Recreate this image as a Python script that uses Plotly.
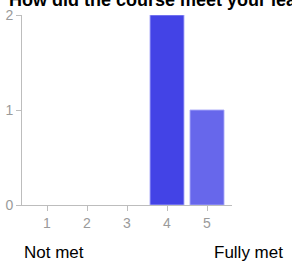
import plotly.graph_objects as go

title = "How did the course meet your learning expectations?"
categories = [1, 2, 3, 4, 5]
counts = [0, 0, 0, 2, 1]
bar_colors = ["#4343E6", "#4343E6", "#4343E6", "#4343E6", "#6767EB"]
y_ticks = [0, 1, 2]
low_label = "Not met"
high_label = "Fully met"

W, H = 292, 263
L, R, T, B = 22, 60, 15, 58
pw, ph = W - L - R, H - T - B


def py(pix):
    """pixel row -> paper y"""
    return 1 - (pix - T) / ph


def px(pix):
    return (pix - L) / pw


fig = go.Figure(go.Bar(
    x=categories, y=counts, width=0.85,
    marker=dict(color=bar_colors,
                line=dict(color="rgba(170,170,250,0.9)",
                          width=[1 if c > 0 else 0 for c in counts])),
    hoverinfo="skip",
))

axis_col = "#BDBDBD"
fig.update_layout(
    width=W, height=H,
    margin=dict(l=L, r=R, t=T, b=B, pad=0, autoexpand=False),
    paper_bgcolor="white", plot_bgcolor="white",
    showlegend=False,
    font=dict(family="Liberation Sans, Arial, sans-serif", color="#000"),
    xaxis=dict(
        range=[0.375, 0.375 + pw / 40], tickvals=categories, ticktext=[str(c) for c in categories],
        showgrid=False, zeroline=False, showline=True, linecolor=axis_col, linewidth=1,
        ticks="outside", ticklen=5, tickcolor=axis_col, automargin=False,
        tickfont=dict(size=14, color="#9A9A9A"), fixedrange=True,
    ),
    yaxis=dict(
        range=[0, 2], tickvals=y_ticks, ticktext=[str(v) for v in y_ticks],
        showgrid=False, zeroline=False, showline=True, linecolor=axis_col, linewidth=1,
        ticks="outside", ticklen=5, tickcolor=axis_col, automargin=False,
        tickfont=dict(size=14, color="#9A9A9A"), fixedrange=True,
    ),
    annotations=[
        dict(text="<b>" + title + "</b>", xref="paper", yref="paper",
             x=px(7), y=py(0), xanchor="left", yanchor="middle",
             showarrow=False, font=dict(size=18, color="#000")),
        dict(text=low_label, xref="paper", yref="paper",
             x=px(22), y=py(252), xanchor="left", yanchor="middle",
             showarrow=False, font=dict(size=17, color="#000")),
        dict(text=high_label, xref="paper", yref="paper",
             x=px(285), y=py(252), xanchor="right", yanchor="middle",
             showarrow=False, font=dict(size=17, color="#000")),
    ],
)

fig.write_html("out.html", config={"displayModeBar": False},
               post_script="document.body.style.margin='0';document.body.style.overflow='hidden';")
